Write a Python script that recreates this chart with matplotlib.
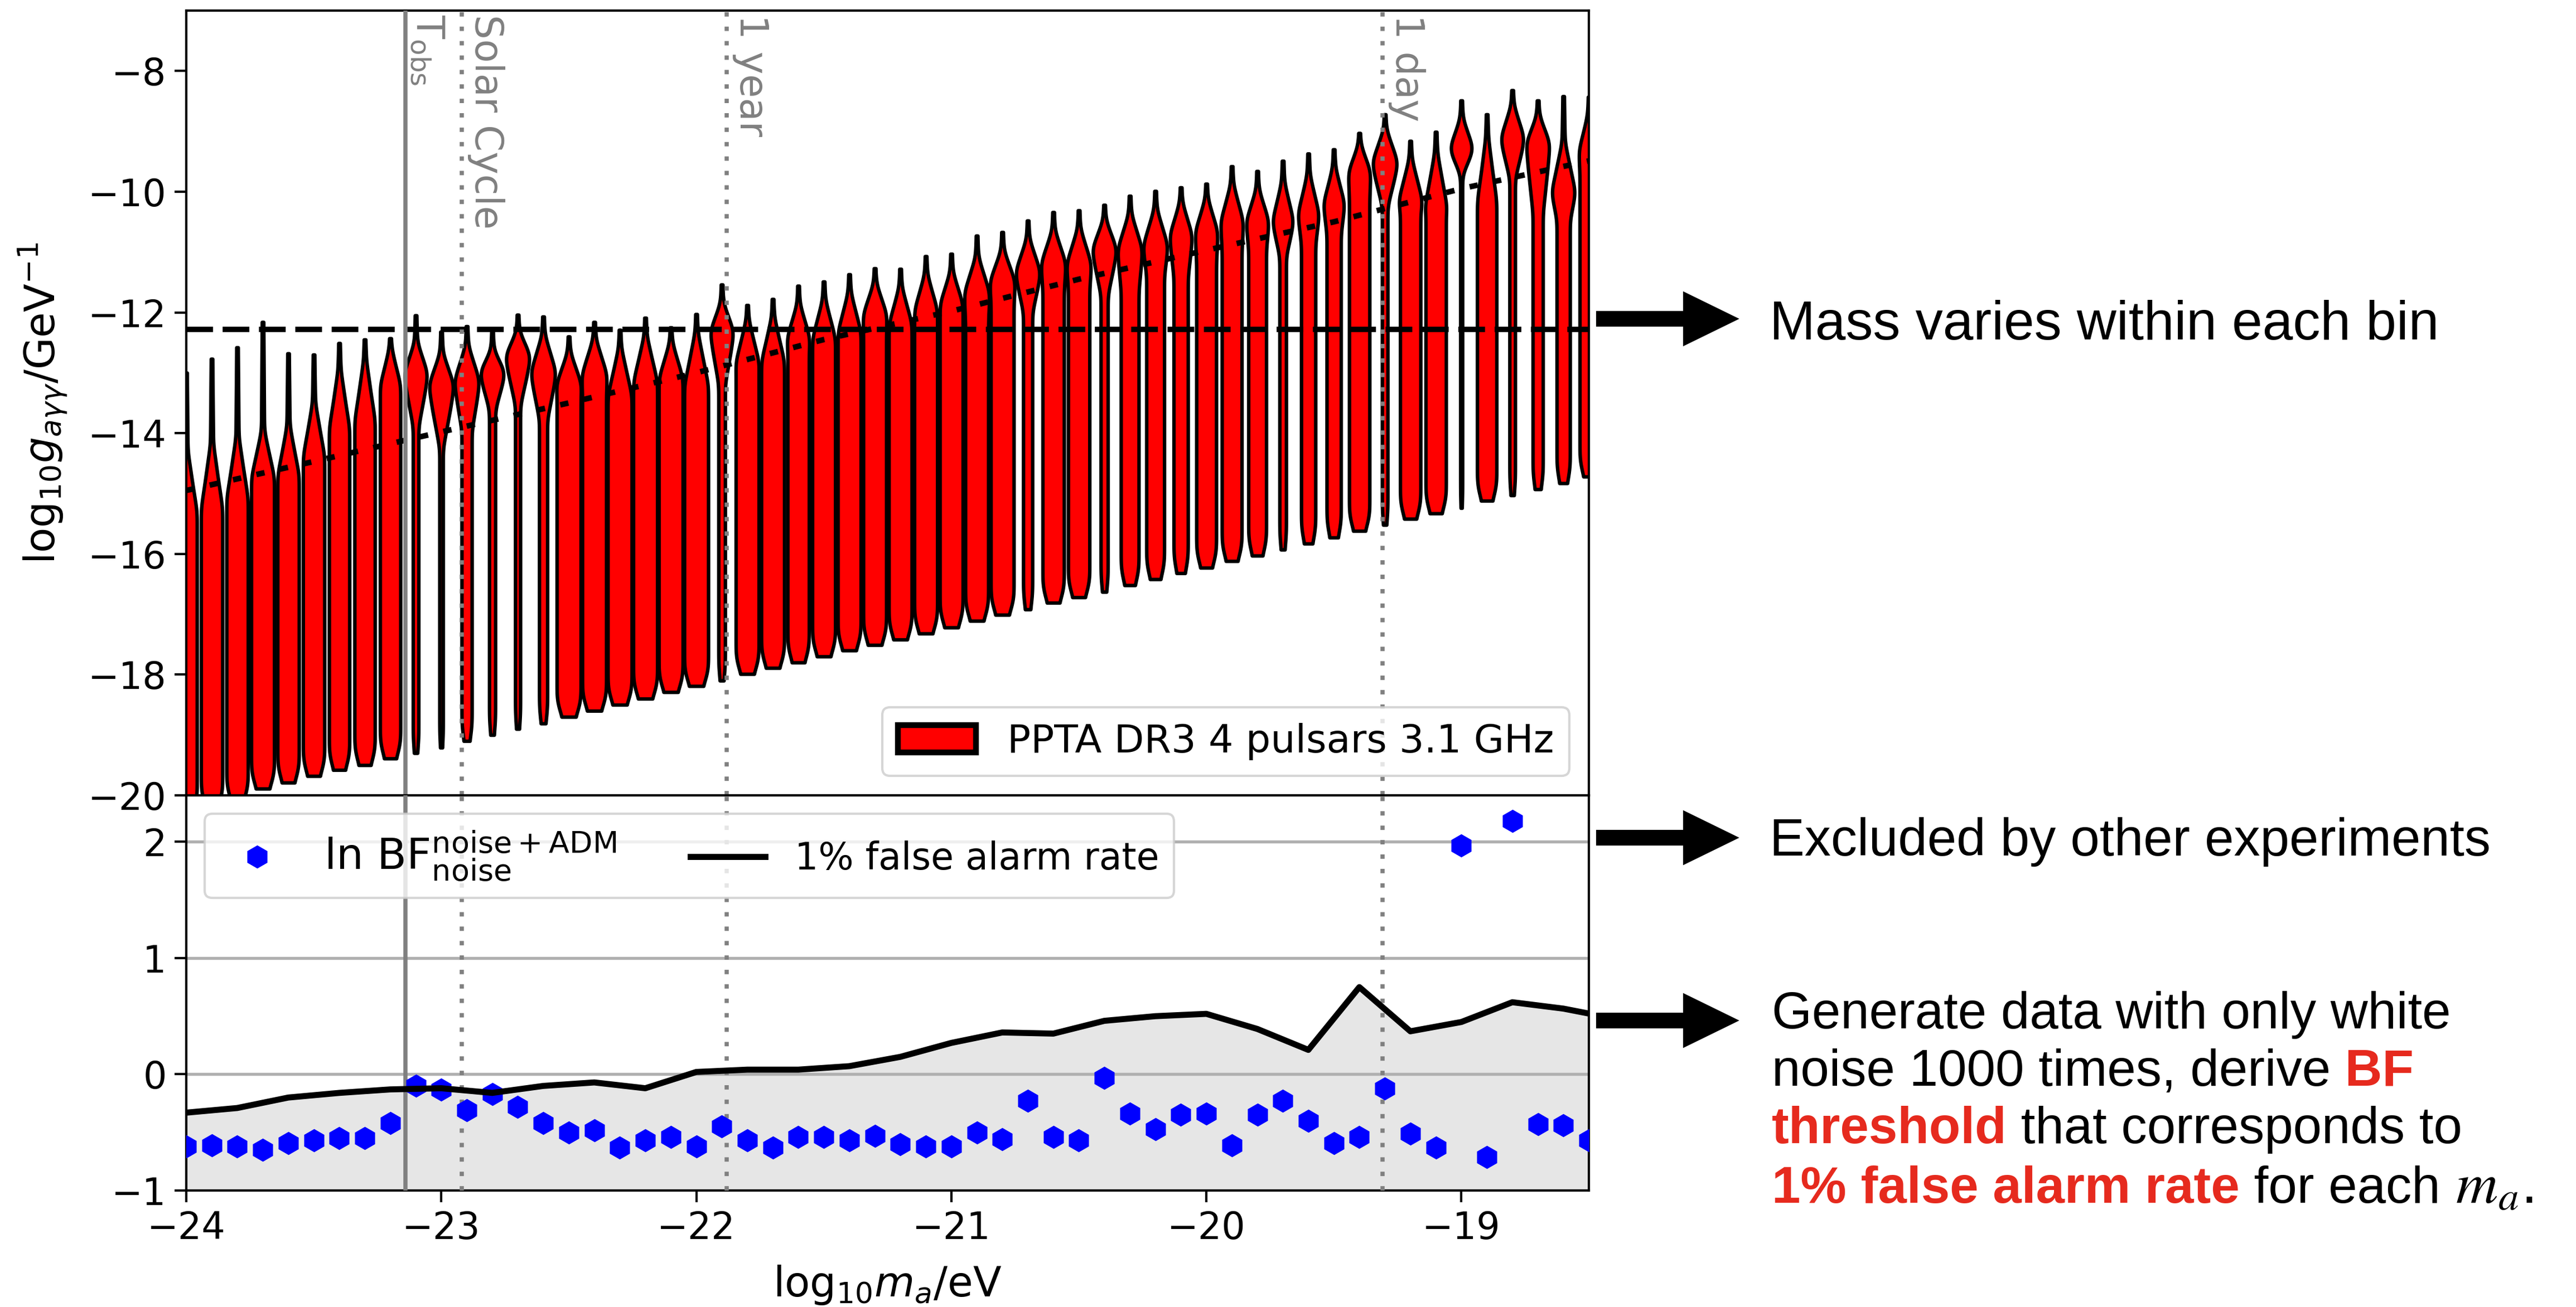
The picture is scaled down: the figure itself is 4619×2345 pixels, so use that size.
import numpy as np
import matplotlib
matplotlib.use('Agg')
import matplotlib.pyplot as plt
from matplotlib.patches import Patch, FancyArrow

plt.rcParams['font.family'] = 'DejaVu Sans'
plt.rcParams['mathtext.fontset'] = 'dejavusans'

# ---------------- data ----------------
# log10(m_a/eV) bin centres, one violin and one BF point per bin
log_ma = np.round(np.arange(-24.0, -18.45, 0.1), 1)

# violin outline: top (max), bottom (min) of each violin
g_top = [-13.0, -12.77, -12.58, -12.16, -12.68, -12.70, -12.51, -12.45, -12.43, -12.05,
         -12.32, -12.23, -12.32, -12.04, -12.07, -12.40, -12.16, -12.29, -12.09, -12.25,
         -12.03, -11.54, -11.88, -11.78, -11.56, -11.49, -11.37, -11.27, -11.28, -11.07,
         -11.03, -10.73, -10.67, -10.48, -10.34, -10.31, -10.22, -10.07, -9.99, -9.93,
         -9.87, -9.58, -9.66, -9.49, -9.37, -9.30, -9.03, -8.72, -9.16, -9.01,
         -8.49, -8.72, -8.32, -8.49, -8.42, -8.43]
g_bottom = [-20.3, -20.2, -20.1, -19.89, -19.79, -19.68, -19.58, -19.50, -19.39, -19.30,
            -19.21, -19.10, -19.00, -18.90, -18.81, -18.70, -18.60, -18.50, -18.40, -18.29,
            -18.19, -18.10, -17.99, -17.89, -17.80, -17.70, -17.60, -17.51, -17.42, -17.32,
            -17.22, -17.11, -17.01, -16.92, -16.81, -16.72, -16.63, -16.52, -16.42, -16.32,
            -16.23, -16.12, -16.03, -15.93, -15.83, -15.73, -15.62, -15.52, -15.42, -15.33,
            -15.24, -15.12, -15.03, -14.93, -14.83, -14.72]
# shape: thin tail length, depth of the bulge, depth where the body starts (below top)
spike_len = [1.3, 1.41, 1.49, 1.8, 1.2, 0.8, 0.45, 0.35, 0.18, 0.44,
             0.35, 0.32, 0.3, 0.27, 0.3, 0.26, 0.28, 0.3, 0.3, 0.25,
             0.3, 0.3, 0.25, 0.3, 0.3, 0.3, 0.3, 0.25, 0.3, 0.3,
             0.3, 0.35, 0.3, 0.3, 0.3, 0.3, 0.25, 0.3, 0.3, 0.25,
             0.25, 0.3, 0.3, 0.35, 0.35, 0.3, 0.2, 0.25, 0.3, 0.35,
             0.3, 0.4, 0.25, 0.25, 0.76, 0.3]
bulb_drop = [2.3, 2.47, 2.49, 2.56, 2.0, 1.67, 1.4, 1.33, 0.76, 0.96,
             0.88, 0.9, 0.67, 0.68, 0.92, 0.79, 0.87, 1.08, 1.05, 0.83,
             1.17, 0.77, 0.96, 1.02, 0.85, 0.93, 0.94, 0.76, 0.9, 0.88,
             0.82, 0.94, 0.81, 0.85, 0.84, 0.88, 0.73, 0.88, 0.9, 0.79,
             0.79, 0.91, 0.82, 0.99, 0.99, 0.89, 0.63, 0.79, 0.98, 1.24,
             0.79, 1.36, 0.79, 0.7, 1.58, 0.88]
neck_drop = [2.4, 2.57, 2.59, 2.66, 2.1, 1.77, 1.5, 1.43, 0.86, 1.84,
             1.93, 1.73, 1.29, 1.5, 1.7, 1.0, 1.2, 1.18, 1.15, 0.93,
             1.27, 1.65, 1.06, 1.12, 1.1, 1.03, 1.04, 1.1, 1.0, 0.98,
             0.92, 1.45, 1.2, 1.52, 1.3, 1.3, 1.49, 1.58, 1.4, 1.49,
             1.3, 1.4, 1.3, 1.58, 1.5, 1.4, 1.1, 1.52, 1.2, 1.34,
             1.23, 1.46, 1.46, 1.87, 2.05, 1.3]
# half widths (in log10 m_a units) of the bulge and of the body
bulb_halfw = [0.042, 0.042, 0.042, 0.045, 0.042, 0.042, 0.040, 0.040, 0.040, 0.047,
              0.050, 0.050, 0.050, 0.050, 0.050, 0.050, 0.050, 0.047, 0.047, 0.047,
              0.047, 0.047, 0.047, 0.045, 0.045, 0.045, 0.045, 0.047, 0.045, 0.045,
              0.045, 0.050, 0.050, 0.050, 0.049, 0.049, 0.049, 0.049, 0.049, 0.045,
              0.045, 0.045, 0.045, 0.042, 0.042, 0.042, 0.044, 0.051, 0.047, 0.044,
              0.047, 0.036, 0.047, 0.047, 0.047, 0.040]
body_halfw = [0.042, 0.042, 0.042, 0.045, 0.042, 0.042, 0.040, 0.040, 0.040, 0.011,
              0.007, 0.020, 0.012, 0.010, 0.016, 0.047, 0.047, 0.047, 0.047, 0.047,
              0.047, 0.013, 0.045, 0.045, 0.042, 0.045, 0.045, 0.045, 0.045, 0.045,
              0.045, 0.045, 0.045, 0.018, 0.042, 0.042, 0.014, 0.035, 0.035, 0.028,
              0.039, 0.039, 0.035, 0.013, 0.028, 0.028, 0.040, 0.011, 0.040, 0.040,
              0.004, 0.038, 0.011, 0.020, 0.026, 0.036]

# dotted sensitivity curve and dashed exclusion level
curve_x = [-24.0, -23.5, -23.0, -22.5, -22.0, -21.5, -21.0, -20.5, -20.0, -19.5, -19.0, -18.5]
curve_y = [-14.95, -14.47, -13.98, -13.5, -13.0, -12.45, -11.98, -11.45, -10.97, -10.5, -9.95, -9.49]
excl_level = -12.28

# lower panel: ln BF per bin and 1% false alarm threshold
ln_bf = [-0.62, -0.61, -0.62, -0.65, -0.59, -0.57, -0.55, -0.55, -0.42, -0.10,
         -0.13, -0.31, -0.17, -0.28, -0.42, -0.50, -0.48, -0.63, -0.57, -0.54,
         -0.62, -0.45, -0.57, -0.63, -0.54, -0.54, -0.57, -0.53, -0.60, -0.62,
         -0.62, -0.50, -0.56, -0.23, -0.54, -0.57, -0.03, -0.34, -0.47, -0.35,
         -0.34, -0.61, -0.35, -0.23, -0.40, -0.59, -0.54, -0.12, -0.51, -0.63,
         1.97, -0.71, 2.18, -0.43, -0.44, -0.57]
thr_x = np.round(np.arange(-24.0, -18.35, 0.2), 1)
thr_y = [-0.33, -0.29, -0.20, -0.16, -0.13, -0.12, -0.16, -0.10, -0.07, -0.12,
         0.02, 0.04, 0.04, 0.07, 0.15, 0.27, 0.36, 0.35, 0.46, 0.50,
         0.52, 0.39, 0.21, 0.75, 0.37, 0.45, 0.62, 0.565, 0.48]

# characteristic time scales
scale_labels = [r'T$_\mathrm{obs}$', 'Solar Cycle', '1 year', '1 day']
scale_mass = [-23.14, -22.92, -21.88, -19.31]

FS = 16
LFS = 17.8
RED = '#e62a1e'

# ---------------- figure ----------------
W, H, DPI = 4619, 2345, 300
fig = plt.figure(figsize=(W / DPI, H / DPI), dpi=DPI)
ax1 = fig.add_axes([0.0723, 0.3915, 0.5445, 0.6004])
ax2 = fig.add_axes([0.0723, 0.0891, 0.5445, 0.3024], sharex=ax1)


def smooth_outline(ys, ws, sigma=0.1):
    # rounded outline through the read-off knots
    yy = np.linspace(ys[-1], ys[0], 400)
    ww = np.interp(yy, ys[::-1], ws[::-1])
    dy = yy[1] - yy[0]
    n = int(4 * sigma / dy) + 1
    kern = np.exp(-0.5 * (np.arange(-n, n + 1) * dy / sigma) ** 2)
    kern /= kern.sum()
    return yy, np.convolve(np.pad(ww, n, mode='edge'), kern, mode='valid')


# violins
stats = []
for i in range(len(log_ma)):
    top, bot = g_top[i], g_bottom[i]
    s, b, n = spike_len[i], bulb_drop[i], neck_drop[i]
    wb, wy = bulb_halfw[i], body_halfw[i]
    ys = [top, top - s, top - s - 0.55 * (b - s), top - b, top - b - 0.35 * (n - b),
          top - n, bot + 0.3, bot + 0.08, bot]
    ws = [0.003, 0.006, 0.6 * wb, wb, wy + 0.7 * (wb - wy), wy, wy, 0.75 * wy, 0.5 * wy]
    yy, ww = smooth_outline(ys, ws)
    stats.append(dict(coords=yy, vals=ww, mean=np.mean(ys),
                      median=np.median(ys), min=bot, max=top))
widths = [2 * st['vals'].max() for st in stats]
vp = ax1.violin(stats, positions=log_ma, widths=widths,
                showmeans=False, showextrema=False, showmedians=False)
for body in vp['bodies']:
    body.set_facecolor('red')
    body.set_edgecolor('black')
    body.set_linewidth(1.5)
    body.set_alpha(1)

ax1.plot(curve_x, curve_y, color='black', lw=2.4, ls=(0, (1.5, 2.8)), zorder=3)
ax1.axhline(excl_level, color='black', lw=2.3, ls=(0, (5.0, 1.8)), zorder=3)

for ax in (ax1, ax2):
    for k, m in enumerate(scale_mass):
        if k == 0:
            ax.axvline(m, color='grey', lw=1.8, zorder=3)
        else:
            ax.axvline(m, color='grey', lw=1.8, ls=(0, (1.05, 2.4)), zorder=3)
for k, (lab, m) in enumerate(zip(scale_labels, scale_mass)):
    ax1.text(m + (0.012 if k == 0 else 0.022), 0.995, lab, transform=ax1.get_xaxis_transform(),
             rotation=270, ha='left', va='top', color='grey', fontsize=FS + 0.5)

ax1.legend(handles=[Patch(facecolor='red', edgecolor='black', linewidth=2.5,
                          label='PPTA DR3 4 pulsars 3.1 GHz')],
           loc='lower right', fontsize=16.8)
ax1.set_ylim(-20, -7)
ax1.set_yticks(np.arange(-20, -7, 2))
ax1.set_ylabel(r'log$_{10}g_{a\gamma\gamma}$/GeV$^{-1}$', fontsize=LFS, labelpad=8)
ax1.tick_params(axis='x', which='both', bottom=False, labelbottom=False)

# lower panel
ax2.fill_between(thr_x, -1, thr_y, color='0.9', lw=0, zorder=1)
ax2.plot(log_ma, ln_bf, ls='none', marker='h', color='blue', markersize=10, mew=0,
         label=r'ln BF$^{\mathrm{noise+ADM}}_{\mathrm{noise}}$', zorder=4)
ax2.plot(thr_x, thr_y, color='black', lw=2.6, label='1% false alarm rate', zorder=4)
ax2.grid(axis='y', color='#b0b0b0', lw=1.3)
ax2.set_ylim(-1, 2.4)
ax2.set_yticks([-1, 0, 1, 2])
ax2.set_xlim(-24, -18.5)
ax2.set_xticks([-24, -23, -22, -21, -20, -19])
ax2.set_xlabel(r'log$_{10}m_a$/eV', fontsize=LFS, labelpad=7)
leg = ax2.legend(loc='upper left', ncol=2, fontsize=FS)
leg.get_texts()[0].set_fontsize(18.5)

for ax in (ax1, ax2):
    ax.tick_params(labelsize=FS, length=5, width=1.0)
    for sp in ax.spines.values():
        sp.set_linewidth(1.0)

# ---------------- annotations on the right ----------------
ov = fig.add_axes([0, 0, 1, 1])
ov.set_xlim(0, W)
ov.set_ylim(H, 0)
ov.axis('off')

for y0 in (572, 1503, 1831):
    ov.add_patch(FancyArrow(2864, y0, 250, 0, width=24, head_width=92, head_length=94,
                            length_includes_head=True, color='black'))

NOTE_FONT = ['Liberation Sans', 'DejaVu Sans']
renderer = fig.canvas.get_renderer()


def text_line(x, y, pieces, size):
    for s, col, wt in pieces:
        t = ov.text(x, y, s, color=col, fontweight=wt, fontsize=size, family=NOTE_FONT,
                    va='baseline', ha='left', math_fontfamily='stix')
        x = t.get_window_extent(renderer).x1


text_line(3173, 609, [('Mass varies within each bin', 'black', 'normal')], 23.6)
text_line(3173, 1535, [('Excluded by other experiments', 'black', 'normal')], 22.6)
text_line(3177, 1845, [('Generate data with only white', 'black', 'normal')], 22.2)
text_line(3177, 1948, [('noise 1000 times, derive', 'black', 'normal'), (' BF', RED, 'bold')], 22.2)
text_line(3177, 2051, [('threshold', RED, 'bold'), (' that corresponds to', 'black', 'normal')], 22.2)
text_line(3177, 2158, [('1% false alarm rate', RED, 'bold'), (' for each', 'black', 'normal')], 22.2)
# italic m_a in a serif math face, as in the reference
text_line(ov.texts[-1].get_window_extent(renderer).x1, 2158, [(r' $m_a$.', 'black', 'normal')], 25)

fig.savefig('out.png', dpi=DPI)
